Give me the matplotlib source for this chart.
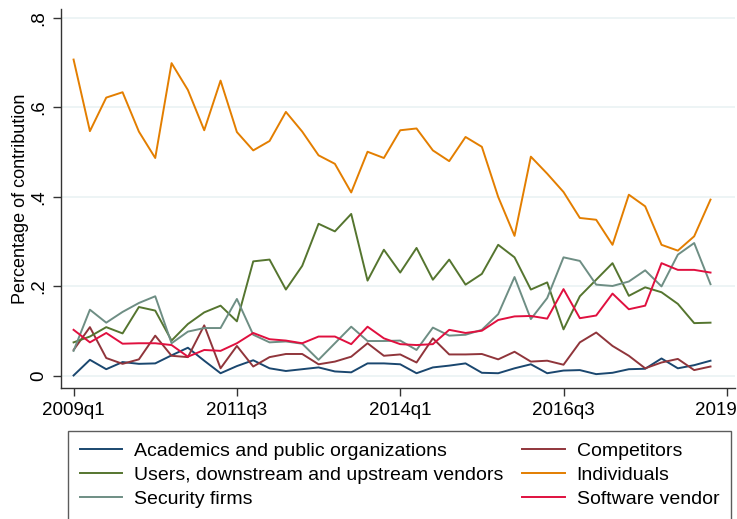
import numpy as np
import matplotlib.pyplot as plt
from matplotlib.transforms import offset_copy

plt.rcParams['font.family'] = ['Liberation Sans', 'DejaVu Sans']

# quarterly shares, 2009q1 .. 2018q4
quarters = [f"{y}q{q}" for y in range(2009, 2019) for q in range(1, 5)]

academics = [0.001, 0.036, 0.015, 0.031, 0.027, 0.028, 0.046, 0.063, 0.034, 0.006,
             0.022, 0.035, 0.017, 0.011, 0.015, 0.019, 0.010, 0.008, 0.028, 0.028,
             0.026, 0.006, 0.019, 0.023, 0.028, 0.007, 0.006, 0.017, 0.026, 0.006,
             0.012, 0.013, 0.004, 0.007, 0.015, 0.016, 0.039, 0.017, 0.024, 0.034]
competitors = [0.058, 0.109, 0.040, 0.027, 0.037, 0.090, 0.045, 0.042, 0.113, 0.017,
               0.067, 0.021, 0.042, 0.049, 0.049, 0.026, 0.032, 0.043, 0.073, 0.045,
               0.048, 0.030, 0.084, 0.048, 0.048, 0.049, 0.037, 0.054, 0.032, 0.034,
               0.025, 0.075, 0.097, 0.067, 0.045, 0.017, 0.030, 0.038, 0.013, 0.021]
users = [0.075, 0.088, 0.109, 0.095, 0.154, 0.146, 0.079, 0.116, 0.142, 0.157,
         0.122, 0.256, 0.260, 0.193, 0.246, 0.340, 0.323, 0.362, 0.213, 0.282,
         0.231, 0.286, 0.215, 0.260, 0.204, 0.228, 0.293, 0.265, 0.193, 0.209,
         0.104, 0.178, 0.215, 0.252, 0.179, 0.198, 0.187, 0.161, 0.118, 0.119]
individuals = [0.707, 0.547, 0.622, 0.634, 0.546, 0.487, 0.699, 0.639, 0.549, 0.660,
               0.545, 0.504, 0.525, 0.590, 0.546, 0.493, 0.474, 0.410, 0.501, 0.487,
               0.549, 0.553, 0.504, 0.480, 0.534, 0.512, 0.400, 0.313, 0.490, 0.452,
               0.411, 0.353, 0.349, 0.293, 0.405, 0.379, 0.293, 0.280, 0.312, 0.394]
security = [0.056, 0.148, 0.119, 0.143, 0.163, 0.178, 0.073, 0.099, 0.107, 0.107,
            0.172, 0.092, 0.075, 0.077, 0.072, 0.036, 0.073, 0.110, 0.078, 0.078,
            0.079, 0.058, 0.108, 0.090, 0.092, 0.103, 0.138, 0.221, 0.127, 0.174,
            0.265, 0.257, 0.204, 0.201, 0.211, 0.236, 0.200, 0.271, 0.297, 0.205]
software = [0.103, 0.075, 0.096, 0.072, 0.073, 0.073, 0.069, 0.043, 0.058, 0.056,
            0.073, 0.096, 0.082, 0.079, 0.073, 0.088, 0.088, 0.071, 0.110, 0.084,
            0.071, 0.069, 0.071, 0.103, 0.096, 0.101, 0.125, 0.133, 0.134, 0.128,
            0.194, 0.129, 0.135, 0.184, 0.149, 0.157, 0.252, 0.237, 0.237, 0.231]

labels = ["Academics and public organizations", "Competitors",
          "Users, downstream and upstream vendors", "Individuals",
          "Security firms", "Software vendor"]
colors = ["#1a476f", "#90353b", "#55752f", "#e37e00", "#6e8e84", "#e0103f"]
series = [academics, competitors, users, individuals, security, software]

xtick_pos = [0, 10, 20, 30, 40]
xtick_lab = ["2009q1", "2011q3", "2014q1", "2016q3", "2019"]
ytick_pos = [0, 0.2, 0.4, 0.6, 0.8]
ytick_lab = ["0", ".2", ".4", ".6", ".8"]

fig = plt.figure(figsize=(7.37, 5.19), dpi=100)
ax = fig.add_axes([61/737, 1 - 388/519, (735 - 61)/737, (388 - 9)/519])

x = np.arange(len(quarters))
lines = []
for s, c, l in zip(series, colors, labels):
    ln, = ax.plot(x, s, color=c, lw=1.4, label=l)
    lines.append(ln)

ax.set_xlim(-0.77, 40.5)
ax.set_ylim(-0.027, 0.82)
ax.set_xticks(xtick_pos)
ax.set_xticklabels(xtick_lab, fontsize=13.5)
ax.set_yticks(ytick_pos)
ax.set_yticklabels(ytick_lab, fontsize=13.5, rotation=90, va='center')
ax.tick_params(length=6, width=1, color='#333333', pad=4)
ax.grid(axis='y', color='#eaf2f3', lw=1.2)
ax.set_axisbelow(True)
for sp in ['top', 'right']:
    ax.spines[sp].set_visible(False)
for sp in ['left', 'bottom']:
    ax.spines[sp].set_color('#333333')
    ax.spines[sp].set_linewidth(1)
ax.set_ylabel("Percentage of contribution", fontsize=13, labelpad=1)

# last x label is pulled left so it stays inside the figure
last = ax.get_xticklabels()[-1]
last.set_ha('right')
last.set_transform(offset_copy(last.get_transform(), fig=fig, x=10, units='dots'))

# legend fills row by row, matplotlib fills column by column
order = [0, 2, 4, 1, 3, 5]
top = 1 - 431/519
leg = fig.legend([lines[i] for i in order], [labels[i] for i in order],
                 loc='upper left', ncol=2, mode='expand', fontsize=14,
                 bbox_to_anchor=(68/737, top - 0.3, (731 - 68)/737, 0.3),
                 bbox_transform=fig.transFigure, fancybox=False, frameon=True,
                 handlelength=2.2, handletextpad=0.6, borderpad=0.6,
                 labelspacing=0.32, borderaxespad=0)
leg.get_frame().set_edgecolor('#333333')
leg.get_frame().set_linewidth(1)

fig.savefig("out.png", dpi=100)
